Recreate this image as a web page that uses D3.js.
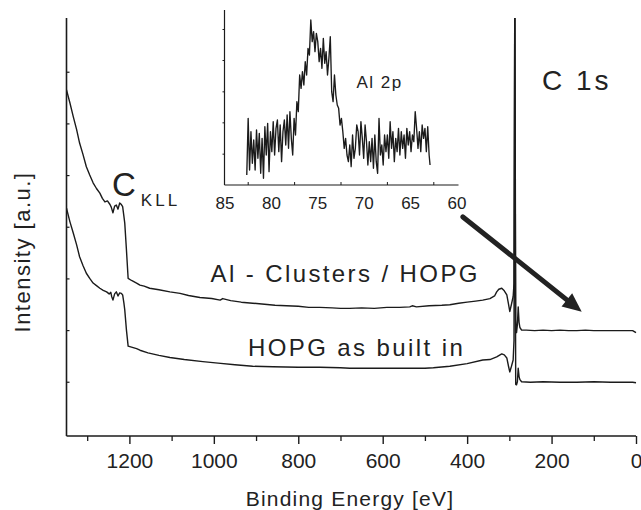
<!DOCTYPE html>
<html><head><meta charset="utf-8">
<script src="https://cdn.jsdelivr.net/npm/d3@7"></script>
<style>
html,body{margin:0;padding:0;background:#fff;}
text{font-family:"Liberation Sans",Arial,Helvetica,sans-serif;fill:#222;}
</style></head>
<body>
<svg id="chart" width="641" height="510"></svg>
<script>
// ---------- DATA ----------
// Survey spectrum, Al clusters / HOPG (binding energy eV, intensity a.u.)
const energyTop = [1349,1341,1333,1325,1318,1310,1302,1294,1286,1278,1270,1264,1258,1252,1246,1243,1239,1235,1231,1227,1223,1219,1216,1213,1211,1207,1203,1195,1183,1175,1165,1152,1130,1104,1080,1060,1033,1005,985,979,960,935,908,880,855,828,800,775,749,720,700,678,650,620,590,560,536,530,520,490,460,441,420,400,380,363,346,335,330,325,318,312,306,302,299,295,291,289,287,285,283,281,279,277,275,271,260,240,220,200,180,160,140,120,100,80,60,40,20,8,4,0];
const intensityTop = [6.65,6.40,6.13,5.88,5.62,5.40,5.16,5.00,4.85,4.74,4.65,4.55,4.48,4.50,4.43,4.38,4.27,4.40,4.42,4.34,4.46,4.43,4.39,4.20,4.07,3.55,3.00,2.96,2.91,2.87,2.85,2.81,2.78,2.74,2.71,2.67,2.63,2.61,2.58,2.61,2.57,2.54,2.52,2.50,2.48,2.47,2.46,2.44,2.44,2.43,2.42,2.42,2.43,2.42,2.44,2.44,2.45,2.47,2.45,2.47,2.48,2.49,2.52,2.54,2.56,2.58,2.61,2.66,2.74,2.79,2.81,2.76,2.68,2.50,2.36,2.50,2.65,2.90,9.00,2.20,1.95,2.10,2.45,2.15,2.05,2.00,2.00,1.99,2.00,1.99,2.00,1.99,1.99,2.00,1.99,1.99,1.99,1.99,1.99,1.99,1.97,1.95];
// Survey spectrum, HOPG as built in
const energyBottom = [1349,1341,1333,1325,1318,1310,1302,1294,1286,1278,1270,1262,1254,1248,1244,1242,1239,1235,1231,1227,1223,1219,1216,1213,1211,1207,1203,1195,1183,1175,1156,1130,1104,1070,1026,990,950,908,860,800,749,700,678,620,560,500,480,441,400,363,346,330,318,312,306,302,299,295,291,289,287,285,283,281,279,277,275,271,250,220,180,140,100,60,20,8,0];
const intensityBottom = [4.36,4.10,3.88,3.65,3.42,3.25,3.10,3.00,2.91,2.86,2.81,2.77,2.74,2.70,2.73,2.65,2.58,2.70,2.74,2.66,2.72,2.71,2.68,2.52,2.39,2.00,1.69,1.67,1.64,1.61,1.56,1.51,1.47,1.43,1.39,1.36,1.33,1.30,1.29,1.28,1.28,1.27,1.26,1.26,1.26,1.26,1.27,1.30,1.35,1.42,1.43,1.48,1.54,1.52,1.46,1.30,1.19,1.30,1.42,1.80,9.00,0.95,0.94,1.00,1.26,1.10,1.04,1.00,0.99,1.00,0.99,0.99,1.00,0.99,0.99,0.99,0.98];
const xMajorTicks = [0,200,400,600,800,1000,1200];
const xMinorTicks = [100,300,500,700,900,1100,1300];
const yTicks = [1,2,3,4,5,6,7];

// Inset: Al 2p detail (binding energy eV, counts a.u.)
const insetEnergy = [82.60,82.45,82.30,82.15,82.00,81.85,81.70,81.55,81.40,81.25,
81.10,80.95,80.80,80.65,80.50,80.35,80.20,80.05,79.90,79.75,
79.60,79.45,79.30,79.15,79.00,78.85,78.70,78.55,78.40,78.25,
78.10,77.95,77.80,77.65,77.50,77.35,77.20,77.05,76.90,76.75,
76.60,76.45,76.30,76.15,76.00,75.85,75.70,75.55,75.40,75.25,
75.10,74.95,74.80,74.65,74.50,74.35,74.20,74.05,73.90,73.75,
73.60,73.45,73.30,73.15,73.00,72.85,72.70,72.55,72.40,72.25,
72.10,71.95,71.80,71.65,71.50,71.35,71.20,71.05,70.90,70.75,
70.60,70.45,70.30,70.15,70.00,69.85,69.70,69.55,69.40,69.25,
69.10,68.95,68.80,68.65,68.50,68.35,68.20,68.05,67.90,67.75,
67.60,67.45,67.30,67.15,67.00,66.85,66.70,66.55,66.40,66.25,
66.10,65.95,65.80,65.65,65.50,65.35,65.20,65.05,64.90,64.75,
64.60,64.45,64.30,64.15,64.00,63.85,63.70,63.55,63.40,63.25,
63.10,62.95,62.85];
const insetCounts = [30,200,45,160,65,135,45,165,80,155,
35,140,20,175,90,185,40,160,100,190,
90,170,195,100,180,70,160,195,120,210,
110,220,140,90,200,150,250,220,330,290,
340,300,370,330,410,390,495,430,460,400,
455,430,370,410,350,440,365,400,330,380,
445,280,250,330,270,240,230,180,200,160,
110,140,90,70,120,55,150,80,110,180,
160,90,190,140,80,180,130,60,130,70,
140,50,150,70,35,200,90,120,60,150,
100,150,80,190,110,160,70,140,100,170,
90,160,110,150,80,170,120,160,100,150,
130,220,170,110,160,100,180,140,170,100,
175,90,60];
const insetXTicks = [85,80,75,70,65,60];
const insetXMinor = [82.5,77.5,72.5,67.5,62.5];
const insetYTicks = [94,188,281,375,468];

// ---------- LAYOUT ----------
const svg = d3.select("#chart");
const plot = {left:66.5, right:636, top:18, bottom:436};
const x = d3.scaleLinear().domain([1349,0]).range([plot.left, plot.right]);
const y = d3.scaleLinear().domain([-0.05,8.04]).range([plot.bottom, plot.top]);
const ink = "#1b1b1b";

svg.append("defs").append("clipPath").attr("id","clipMain")
  .append("rect").attr("x",plot.left).attr("y",plot.top)
  .attr("width",plot.right-plot.left+6).attr("height",plot.bottom-plot.top);

// axes
const xAxis = d3.axisBottom(x).tickValues(xMajorTicks).tickSize(8).tickPadding(9).tickFormat(d3.format("d"));
const gx = svg.append("g").attr("transform",`translate(0,${plot.bottom})`).call(xAxis);
gx.select(".domain").attr("d",`M${plot.left},0H${plot.right}`).attr("stroke",ink).attr("stroke-width",1.6);
gx.selectAll(".tick line").attr("stroke",ink).attr("stroke-width",1.4);
gx.selectAll(".tick text").attr("font-size",21).attr("fill","#222")
  .style("font-family",'"Liberation Sans",Arial,sans-serif');
const gxm = svg.append("g").attr("transform",`translate(0,${plot.bottom})`)
  .call(d3.axisBottom(x).tickValues(xMinorTicks).tickSize(5).tickFormat(""));
gxm.select(".domain").remove();
gxm.selectAll(".tick line").attr("stroke",ink).attr("stroke-width",1.3);

const gy = svg.append("g").attr("transform",`translate(${plot.left},0)`)
  .call(d3.axisRight(y).tickValues(yTicks).tickSize(3).tickFormat(""));
gy.select(".domain").attr("d",`M0,${plot.top}V${plot.bottom}`).attr("stroke",ink).attr("stroke-width",1.6);
gy.selectAll(".tick line").attr("stroke",ink).attr("stroke-width",1.2);

// axis titles
svg.append("text").attr("x",350).attr("y",506).attr("text-anchor","middle")
  .attr("font-size",21).attr("letter-spacing",1.2).text("Binding Energy [eV]");
svg.append("text").attr("transform","translate(30,252) rotate(-90)").attr("text-anchor","middle")
  .attr("font-size",22).attr("letter-spacing",1.5).text("Intensity [a.u.]");

// spectra
const line = d3.line().x(d=>x(d[0])).y(d=>y(d[1]));
const gMain = svg.append("g").attr("clip-path","url(#clipMain)");
gMain.append("path").datum(d3.zip(energyTop,intensityTop)).attr("d",line)
  .attr("fill","none").attr("stroke",ink).attr("stroke-width",1.4).attr("stroke-linejoin","round");
gMain.append("path").datum(d3.zip(energyBottom,intensityBottom)).attr("d",line)
  .attr("fill","none").attr("stroke",ink).attr("stroke-width",1.4).attr("stroke-linejoin","round");

// labels
svg.append("text").attr("x",210.5).attr("y",282).attr("font-size",24).attr("letter-spacing",2.4).text("Al - Clusters / HOPG");
svg.append("text").attr("x",248).attr("y",356).attr("font-size",24).attr("letter-spacing",2.4).text("HOPG as built in");
const ck = svg.append("text").attr("x",112).attr("y",196);
ck.append("tspan").attr("font-size",33).text("C");
ck.append("tspan").attr("font-size",17).attr("dx",5).attr("dy",10).attr("letter-spacing",3).text("KLL");
svg.append("text").attr("x",542).attr("y",90).attr("font-size",28).attr("letter-spacing",3).text("C 1s");

// arrow (annotation, in data coordinates)
const arrowFrom = [410,4.19], arrowTo = [128.6,2.356];
const ax0 = x(arrowFrom[0]), ay0 = y(arrowFrom[1]), ax1 = x(arrowTo[0]), ay1 = y(arrowTo[1]);
const ang = Math.atan2(ay1-ay0, ax1-ax0);
const headL = 19, headW = 8.5;
const bx = ax1 - headL*Math.cos(ang), by = ay1 - headL*Math.sin(ang);
svg.append("line").attr("x1",ax0).attr("y1",ay0).attr("x2",bx+2*Math.cos(ang)).attr("y2",by+2*Math.sin(ang))
  .attr("stroke","#222").attr("stroke-width",5).attr("stroke-linecap","round");
svg.append("path").attr("d",`M${ax1},${ay1}L${bx+headW*Math.sin(ang)},${by-headW*Math.cos(ang)}L${bx-headW*Math.sin(ang)},${by+headW*Math.cos(ang)}Z`)
  .attr("fill","#222");

// ---------- INSET ----------
const ins = {left:224.5, right:456.5, top:10, bottom:185};
const xi = d3.scaleLinear().domain([85,60]).range([ins.left, ins.right]);
const yi = d3.scaleLinear().domain([0,525]).range([ins.bottom, ins.top]);
const gi = svg.append("g");
const gix = gi.append("g").attr("transform",`translate(0,${ins.bottom})`)
  .call(d3.axisBottom(xi).tickValues(insetXTicks).tickSize(0).tickPadding(12).tickFormat(d3.format("d")));
gix.select(".domain").attr("d",`M${ins.left},0H${ins.right+2}`).attr("stroke",ink).attr("stroke-width",1.2);
gix.selectAll(".tick text").attr("font-size",17).attr("fill","#222").style("font-family",'"Liberation Sans",Arial,sans-serif');
const gixm = gi.append("g").attr("transform",`translate(0,${ins.bottom})`)
  .call(d3.axisTop(xi).tickValues(insetXMinor).tickSize(3).tickFormat(""));
gixm.select(".domain").remove();
gixm.selectAll(".tick line").attr("stroke",ink).attr("stroke-width",1);
const giy = gi.append("g").attr("transform",`translate(${ins.left},0)`)
  .call(d3.axisLeft(yi).tickValues(insetYTicks).tickSize(2).tickFormat(""));
giy.select(".domain").attr("d",`M0,${ins.top}V${ins.bottom}`).attr("stroke",ink).attr("stroke-width",1.2);
giy.selectAll(".tick line").attr("stroke",ink).attr("stroke-width",1);
const linei = d3.line().x(d=>xi(d[0])).y(d=>yi(d[1]));
gi.append("path").datum(d3.zip(insetEnergy,insetCounts)).attr("d",linei)
  .attr("fill","none").attr("stroke",ink).attr("stroke-width",1.35).attr("stroke-linejoin","round");
gi.append("text").attr("x",356.5).attr("y",88).attr("font-size",17).attr("letter-spacing",1.5).text("Al 2p");
</script>
</body></html>
